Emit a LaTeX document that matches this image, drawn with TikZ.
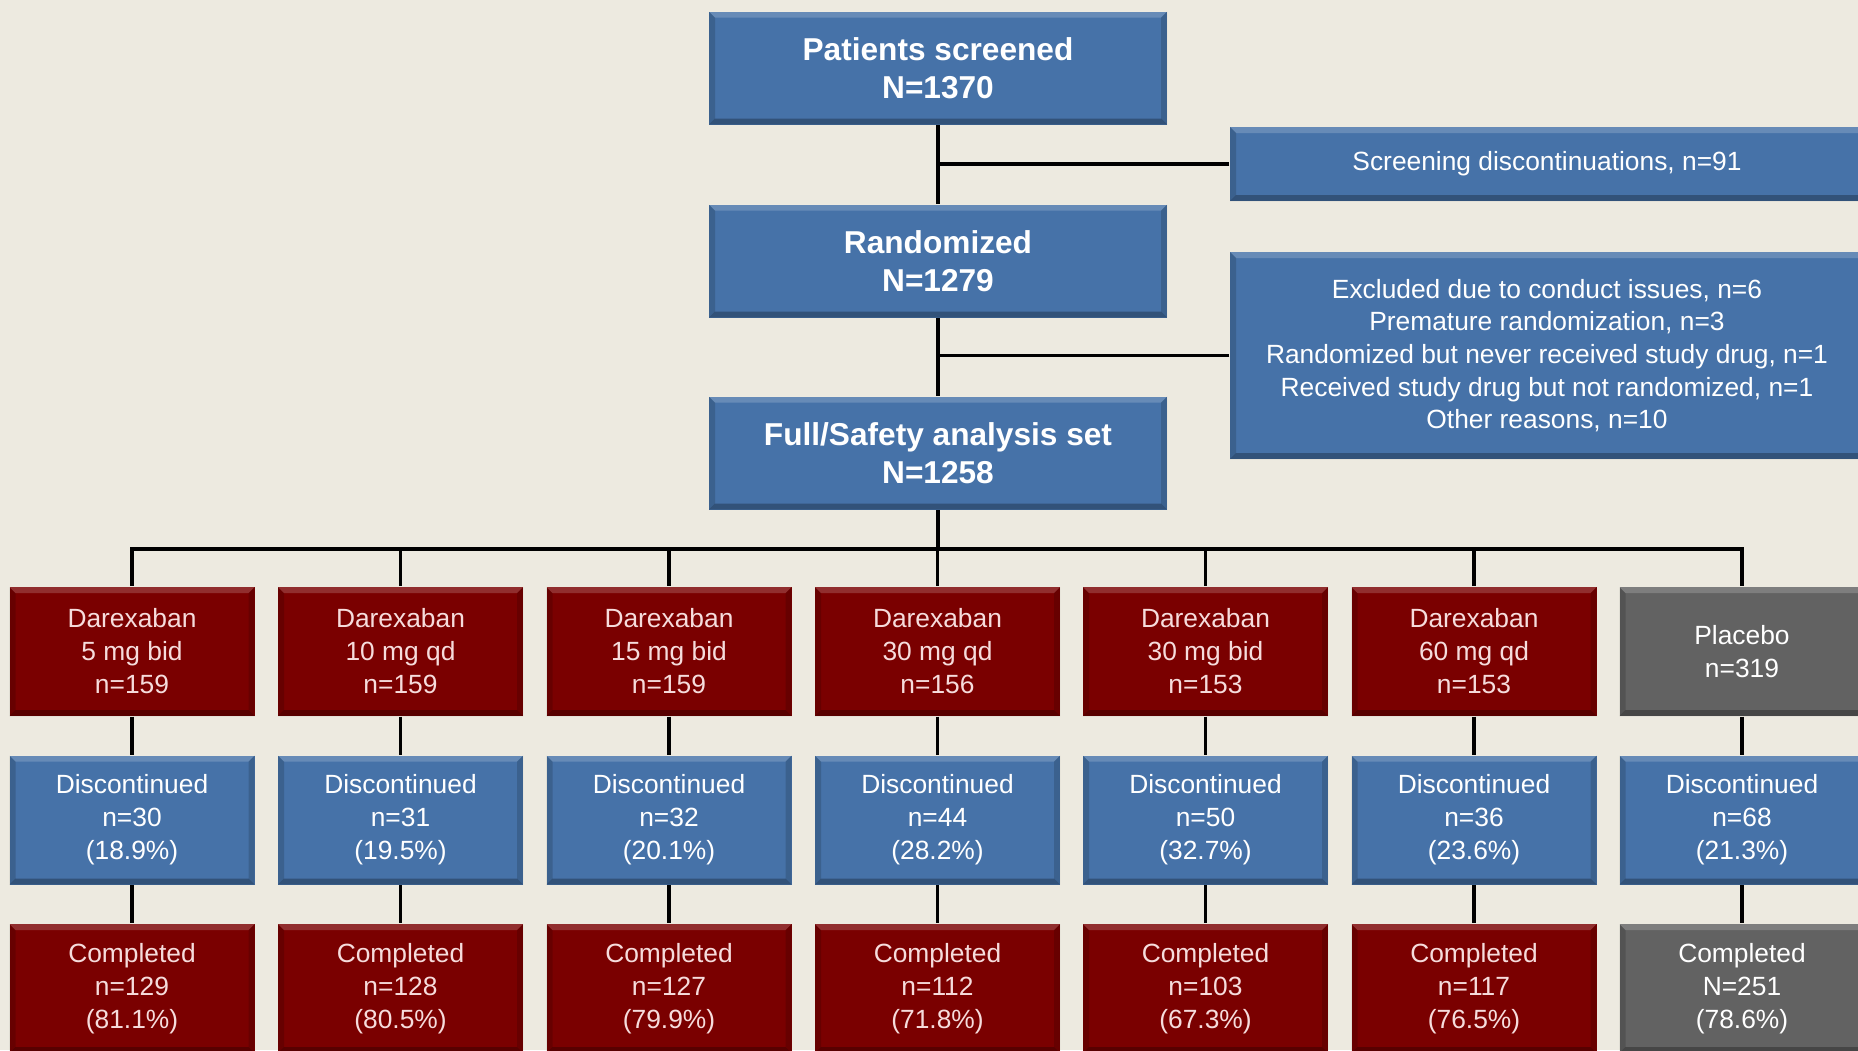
\documentclass[tikz,border=0pt]{standalone}
\usepackage{fontspec}
\setmainfont{Liberation Sans}
\usepackage{xcolor}
\usepackage{tikz}

\definecolor{bgbeige}{RGB}{237,234,224}
\definecolor{boxblue}{RGB}{70,114,168}
\definecolor{armred}{RGB}{122,0,0}
\definecolor{armtext}{RGB}{246,220,220}
\definecolor{placgray}{RGB}{98,98,98}

\tikzset{
    bevel/.style={path picture={
        \fill[white, opacity=0.18] (path picture bounding box.north west) -- (path picture bounding box.north east)
            -- ([shift={(-0.06,-0.06)}]path picture bounding box.north east) -- ([shift={(0.06,-0.06)}]path picture bounding box.north west) -- cycle;
        \fill[black, opacity=0.28] (path picture bounding box.south west) -- (path picture bounding box.south east)
            -- ([shift={(-0.06,0.06)}]path picture bounding box.south east) -- ([shift={(0.06,0.06)}]path picture bounding box.south west) -- cycle;
        \fill[black, opacity=0.15] (path picture bounding box.north west) -- (path picture bounding box.south west)
            -- ([shift={(0.06,0.06)}]path picture bounding box.south west) -- ([shift={(0.06,-0.06)}]path picture bounding box.north west) -- cycle;
        \fill[black, opacity=0.15] (path picture bounding box.north east) -- (path picture bounding box.south east)
            -- ([shift={(-0.06,0.06)}]path picture bounding box.south east) -- ([shift={(-0.06,-0.06)}]path picture bounding box.north east) -- cycle;
    }},
    mainbox/.style={bevel, fill=boxblue, text=white, font=\bfseries\fontsize{9}{10.8}\selectfont,
        align=center, inner sep=0pt, minimum width=4.58cm, minimum height=1.13cm},
    sidebox/.style={bevel, fill=boxblue, text=white, font=\fontsize{7.5}{9.3}\selectfont,
        align=center, inner sep=0pt, minimum width=6.34cm},
    armbox/.style={bevel, fill=armred, text=armtext, font=\fontsize{7.5}{9.4}\selectfont,
        align=center, inner sep=0pt, minimum width=2.45cm, minimum height=1.29cm},
    discbox/.style={armbox, fill=boxblue, text=white},
    placbox/.style={armbox, fill=placgray, text=white},
    link/.style={line width=1pt, black}
}

\begin{document}
\begin{tikzpicture}
    \fill[bgbeige] (0, 0) rectangle (18.58, -10.50);
    \useasboundingbox (0, 0) rectangle (18.58, -10.50);

    \node[mainbox] at (9.38, -0.68) (screened) {Patients screened\\N=1370};
    \node[mainbox] at (9.38, -2.61) (rand) {Randomized\\N=1279};
    \node[mainbox] at (9.38, -4.53) (fas) {Full/Safety analysis set\\N=1258};

    \node[sidebox, minimum height=0.74cm] at (15.47, -1.64) (scrdisc) {Screening discontinuations, n=91};
    \node[sidebox, minimum height=2.07cm] at (15.47, -3.555) (excl) {Excluded due to conduct issues, n=6\\Premature randomization, n=3\\Randomized but never received study drug, n=1\\Received study drug but not randomized, n=1\\Other reasons, n=10};

    \node[armbox] at (1.32, -6.515) (T1) {Darexaban\\5 mg bid\\n=159};
    \node[armbox] at (4.005, -6.515) (T2) {Darexaban\\10 mg qd\\n=159};
    \node[armbox] at (6.69, -6.515) (T3) {Darexaban\\15 mg bid\\n=159};
    \node[armbox] at (9.375, -6.515) (T4) {Darexaban\\30 mg qd\\n=156};
    \node[armbox] at (12.055, -6.515) (T5) {Darexaban\\30 mg bid\\n=153};
    \node[armbox] at (14.74, -6.515) (T6) {Darexaban\\60 mg qd\\n=153};
    \node[placbox] at (17.42, -6.515) (T7) {Placebo\\n=319};

    \node[discbox] at (1.32, -8.20) (D1) {Discontinued\\n=30\\(18.9\%)};
    \node[discbox] at (4.005, -8.20) (D2) {Discontinued\\n=31\\(19.5\%)};
    \node[discbox] at (6.69, -8.20) (D3) {Discontinued\\n=32\\(20.1\%)};
    \node[discbox] at (9.375, -8.20) (D4) {Discontinued\\n=44\\(28.2\%)};
    \node[discbox] at (12.055, -8.20) (D5) {Discontinued\\n=50\\(32.7\%)};
    \node[discbox] at (14.74, -8.20) (D6) {Discontinued\\n=36\\(23.6\%)};
    \node[discbox] at (17.42, -8.20) (D7) {Discontinued\\n=68\\(21.3\%)};

    \node[armbox] at (1.32, -9.885) (C1) {Completed\\n=129\\(81.1\%)};
    \node[armbox] at (4.005, -9.885) (C2) {Completed\\n=128\\(80.5\%)};
    \node[armbox] at (6.69, -9.885) (C3) {Completed\\n=127\\(79.9\%)};
    \node[armbox] at (9.375, -9.885) (C4) {Completed\\n=112\\(71.8\%)};
    \node[armbox] at (12.055, -9.885) (C5) {Completed\\n=103\\(67.3\%)};
    \node[armbox] at (14.74, -9.885) (C6) {Completed\\n=117\\(76.5\%)};
    \node[placbox] at (17.42, -9.885) (C7) {Completed\\N=251\\(78.6\%)};

    \coordinate (bus) at (9.38, -5.49);

    \draw[link] (screened) -- (rand);
    \draw[link] (rand) -- (fas);
    \draw[link] (scrdisc) -- (scrdisc -| screened);
    \draw[link] (excl) -- (excl -| rand);
    \draw[link] (fas) -- (bus);
    \draw[link] (bus) -| (T1);
    \draw[link] (bus) -| (T2);
    \draw[link] (bus) -| (T3);
    \draw[link] (bus) -| (T4);
    \draw[link] (bus) -| (T5);
    \draw[link] (bus) -| (T6);
    \draw[link] (bus) -| (T7);
    \draw[link] (T1) -- (D1);
    \draw[link] (T2) -- (D2);
    \draw[link] (T3) -- (D3);
    \draw[link] (T4) -- (D4);
    \draw[link] (T5) -- (D5);
    \draw[link] (T6) -- (D6);
    \draw[link] (T7) -- (D7);
    \draw[link] (D1) -- (C1);
    \draw[link] (D2) -- (C2);
    \draw[link] (D3) -- (C3);
    \draw[link] (D4) -- (C4);
    \draw[link] (D5) -- (C5);
    \draw[link] (D6) -- (C6);
    \draw[link] (D7) -- (C7);
\end{tikzpicture}
\end{document}
